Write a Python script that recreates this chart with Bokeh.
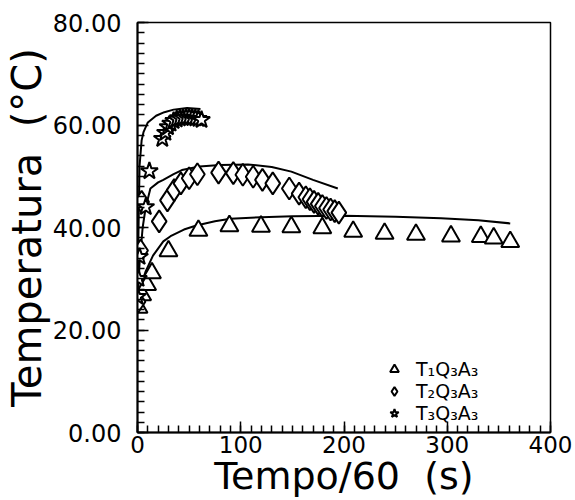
from bokeh.plotting import figure
from bokeh.models import Range1d, Legend, LegendItem, NumeralTickFormatter, FixedTicker
from bokeh.embed import file_html
from bokeh.resources import INLINE

# ---------------- data ----------------
t1_x = [1, 4.5, 9.3, 14, 30, 59, 89, 119.6, 149, 179, 208.9, 239.3, 269.7, 303.6, 332.5, 345, 361]
t1_y = [24.4, 26.8, 28.8, 31.1, 35.4, 39.4, 40.3, 40.2, 40.1, 39.9, 39.2, 38.8, 38.6, 38.3, 38.2, 37.9, 37.2]

t2_x = [0.5, 3, 4, 21, 29, 35.5, 42, 50, 58, 78.5, 92.8, 102, 112, 121, 131, 147, 156.5,
        163, 167, 171, 175, 179, 183, 187, 191, 195]
t2_y = [25.5, 35.5, 45.0, 41.2, 45.3, 47.3, 48.6, 49.6, 50.4, 50.7, 50.6, 50.3, 49.9, 49.3, 48.6, 47.6, 46.6,
        45.9, 45.5, 45.0, 44.6, 44.2, 43.8, 43.5, 43.2, 42.9]

t3_x = [0, 1, 2, 8, 11.5, 24, 27, 29.5, 32, 35, 38, 41, 44, 47, 50, 53, 56, 59, 62]
t3_y = [26.5, 30.0, 34.3, 44.0, 51.0, 57.3, 58.5, 59.6, 60.3, 60.8, 61.1, 61.3, 61.4, 61.5, 61.5, 61.4, 61.3, 61.2, 61.0]

m1_x = [0, 3, 8, 15, 25, 32, 45, 57, 75, 90, 120, 150, 200, 250, 294, 330, 361]
m1_y = [24.5, 28.5, 31.5, 34.5, 37.3, 38.3, 39.6, 40.4, 41.2, 41.7, 42.0, 42.2, 42.3, 42.1, 41.8, 41.4, 40.8]

m2_x = [0, 2, 5, 8, 12.5, 20, 25, 35, 43, 60, 80, 107, 130, 149, 170, 194]
m2_y = [25.0, 33.0, 40.0, 44.0, 47.6, 48.8, 49.3, 50.4, 51.2, 51.9, 52.2, 52.3, 51.8, 50.9, 49.3, 47.6]

m3_x = [0, 1, 2, 4, 5.8, 10, 18, 26, 35, 48, 61]
m3_y = [25.0, 40.0, 52.0, 57.0, 58.6, 60.5, 61.8, 62.5, 63.0, 63.3, 63.1]

legend_labels = ["T\u2081Q\u2083A\u2083", "T\u2082Q\u2083A\u2083", "T\u2083Q\u2083A\u2083"]
x_ticks = [0, 100, 200, 300, 400]
y_ticks = [0, 20, 40, 60, 80]
x_title = "Tempo/60\u00a0 (s)"
y_title = "Temperatura\u00a0 (\u00b0C)"

FONT = "DejaVu Sans"

p = figure(width=572, height=500, output_backend="svg", toolbar_location=None,
           x_range=Range1d(0, 400), y_range=Range1d(0, 80))
p.min_border_left = 135
p.min_border_right = 22
p.min_border_top = 22
p.min_border_bottom = 67
p.background_fill_color = "white"
p.border_fill_color = "white"
p.outline_line_color = "black"
p.outline_line_width = 1.5
p.grid.visible = False

for ax in (p.xaxis[0], p.yaxis[0]):
    ax.axis_line_color = "black"
    ax.axis_line_width = 2
    ax.major_tick_in = 11
    ax.major_tick_out = 0
    ax.minor_tick_in = 7
    ax.minor_tick_out = 0
    ax.major_tick_line_width = 1.5
    ax.minor_tick_line_width = 1.5
    ax.major_label_text_font = FONT
    ax.major_label_text_color = "black"
    ax.axis_label_text_font = FONT
    ax.axis_label_text_font_style = "normal"
    ax.axis_label_text_color = "black"

p.xaxis.major_label_text_font_size = "23px"
p.yaxis.major_label_text_font_size = "24px"
p.xaxis.ticker = FixedTicker(ticks=x_ticks, minor_ticks=list(range(0, 401, 10)))
p.yaxis.ticker = FixedTicker(ticks=y_ticks, minor_ticks=list(range(0, 81, 2)))
p.yaxis.formatter = NumeralTickFormatter(format="0.00")
p.xaxis.major_label_standoff = 3
p.yaxis.major_label_standoff = 16

p.xaxis.axis_label = x_title
p.xaxis.axis_label_text_font_size = "38px"
p.xaxis.axis_label_text_line_height = 0.8
p.xaxis.major_label_text_line_height = 0.9
p.xaxis.axis_label_standoff = -2
p.yaxis.axis_label = y_title
p.yaxis.axis_label_text_font_size = "40px"
p.yaxis.axis_label_standoff = 0

# model curves
for mx, my in ((m1_x, m1_y), (m2_x, m2_y), (m3_x, m3_y)):
    p.line(mx, my, line_color="black", line_width=2)

r1 = p.scatter(t1_x, t1_y, marker="triangle", size=18, fill_color="white",
               line_color="black", line_width=2)
r2 = p.scatter(t2_x, t2_y, marker="diamond", size=22, fill_color="white",
               line_color="black", line_width=2)
r3 = p.scatter(t3_x, t3_y, marker="star", size=18, fill_color="white",
               line_color="black", line_width=2)

legend = Legend(items=[LegendItem(label=legend_labels[0], renderers=[r1]),
                       LegendItem(label=legend_labels[1], renderers=[r2]),
                       LegendItem(label=legend_labels[2], renderers=[r3])],
                location=(246, 8))
legend.background_fill_alpha = 0
legend.border_line_alpha = 0
legend.padding = 0
legend.margin = 0
legend.spacing = 0
legend.glyph_width = 22
legend.glyph_height = 22
legend.label_height = 22
legend.label_standoff = 11
legend.label_text_font = FONT
legend.label_text_font_size = "19px"
legend.label_text_color = "black"
p.add_layout(legend)

open("out.html", "w").write(file_html(p, INLINE))
